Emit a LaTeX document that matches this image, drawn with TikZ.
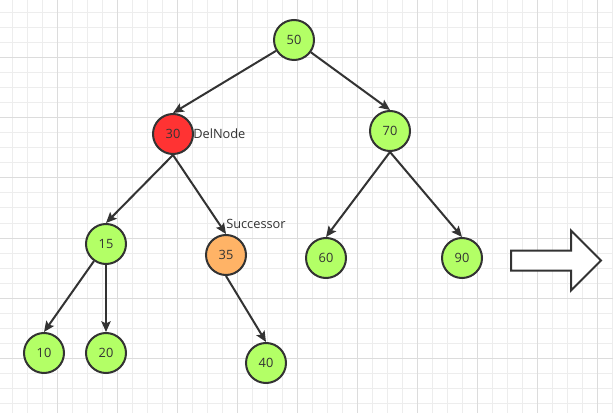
\documentclass[tikz,border=0pt]{standalone}
\usepackage{fontspec}
\setmainfont{Open Sans}
\usetikzlibrary{arrows.meta}
\definecolor{darkline}{HTML}{333333}
\definecolor{leafgreen}{HTML}{B3FF66}
\definecolor{delred}{HTML}{FF3333}
\definecolor{succorange}{HTML}{FFB366}
\definecolor{gridminor}{HTML}{EDEDED}
\definecolor{gridmajor}{HTML}{DCDCDC}
\begin{document}
\begin{tikzpicture}[
    x=0.75pt, y=-0.75pt,
    every node/.style={font=\fontsize{9.6}{11}\selectfont, text=darkline},
    key/.style={circle, draw=darkline, line width=1.5pt, minimum size=30pt, inner sep=0pt, fill=leafgreen},
    deleted/.style={key, fill=delred},
    succ/.style={key, fill=succorange},
    link/.style={draw=darkline, line width=1.5pt, -{Stealth[length=8pt, width=7pt, inset=1.5pt]}},
    tag/.style={anchor=west, inner sep=0pt} % texto ao lado do no
    ]
    \useasboundingbox (0,0) rectangle (613,413);
    \fill[white] (0,0) rectangle (613,413);
    % grade de fundo
    \foreach \x in {12,27,...,612} \draw[gridminor, line width=0.75pt] (\x,0) -- (\x,413);
    \foreach \y in {13,28,...,412} \draw[gridminor, line width=0.75pt] (0,\y) -- (613,\y);
    \foreach \x in {57,117,...,612} \draw[gridmajor, line width=0.75pt] (\x,0) -- (\x,413);
    \foreach \y in {58,118,...,412} \draw[gridmajor, line width=0.75pt] (0,\y) -- (613,\y);

    \node[key] (n50) at (294,40) {50};
    \node[deleted] (n30) at (173,134) {30};
    \node[key] (n70) at (390,131) {70};
    \node[key] (n15) at (106,244) {15};
    \node[succ] (n35) at (226,255) {35};
    \node[key] (n60) at (326,258) {60};
    \node[key] (n90) at (462,258) {90};
    \node[key] (n10) at (44,353) {10};
    \node[key] (n20) at (106,353) {20};
    \node[key] (n40) at (266,363) {40};

    \node[tag] (lblDel) at (193,134) {DelNode};
    \node[tag] (lblSucc) at (226,224) {Successor};

    \draw[link] (n50) -- (n30.north);
    \draw[link] (n50) -- (n70.north);
    \draw[link] (n30.south) -- (n15.north);
    \draw[link] (n30.south) -- (n35.north);
    \draw[link] (n70.south) -- (n60.north);
    \draw[link] (n70.south) -- (n90.north);
    \draw[link] (n15) -- (n10.north);
    \draw[link] (n15.south) -- (n20.north);
    \draw[link] (n35.south) -- (n40.north);

    % seta grande
    \draw[darkline, line width=1.5pt, fill=white, line join=miter]
      (511,250.5) -- (571,250.5) -- (571,230.5) -- (601,260.5) -- (571,290.5) -- (571,270.5) -- (511,270.5) -- cycle;
\end{tikzpicture}
\end{document}
